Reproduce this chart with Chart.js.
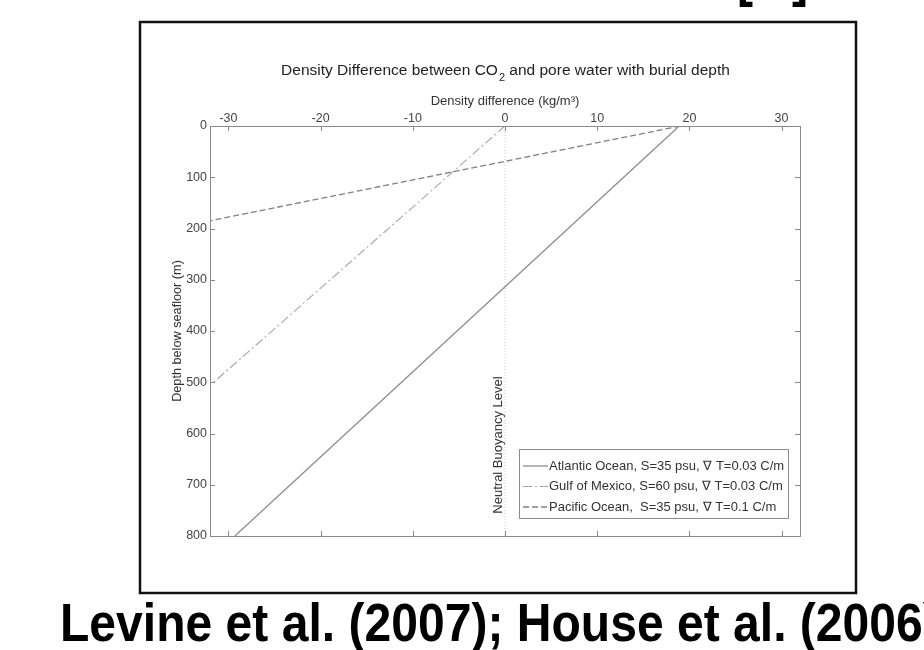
<!DOCTYPE html>
<html>
<head>
<meta charset="utf-8">
<script src="https://cdn.jsdelivr.net/npm/chart.js@4.4.1/dist/chart.umd.min.js"></script>
<style>
  html, body { margin: 0; padding: 0; background: #fff; }
</style>
</head>
<body>
<canvas id="myChart" width="924" height="650"></canvas>
<script>
// density difference (kg/m3) vs depth below seafloor (m)
const depthAtlantic = [0, 800];
const densAtlantic = [18.9, -29.3];
const depthGulf = [0, 500];
const densGulf = [0, -31.6];
const depthPacific = [0, 185];
const densPacific = [19, -32];
const depthNeutral = [0, 800];
const densNeutral = [0, 0];

const seriesLabels = [
  'Atlantic Ocean, S=35 psu, \u2207 T=0.03 C/m',
  'Gulf of Mexico, S=60 psu, \u2207 T=0.03 C/m',
  'Pacific Ocean,  S=35 psu, \u2207 T=0.1 C/m'
];
const xTicks = [-30, -20, -10, 0, 10, 20, 30];
const yTicks = [0, 100, 200, 300, 400, 500, 600, 700, 800];

const FONT = "'Liberation Sans', Arial, sans-serif";

function toPoints(xs, ys) {
  return xs.map((x, i) => ({ x: x, y: ys[i] }));
}

const lineStyles = [
  { color: '#8c8c8c', dash: [], width: 1.3 },
  { color: '#a6a6a6', dash: [9, 3, 2, 3], width: 1.1 },
  { color: '#808080', dash: [6, 3], width: 1.3 }
];

// frame, titles, inner ticks, legend and caption (matlab-ish look)
const decor = {
  id: 'decor',
  afterDraw(chart) {
    const c = chart.ctx;
    const a = chart.chartArea;
    const xs = chart.scales.x;
    const ys = chart.scales.y;
    c.save();

    // axes box + ticks pointing inwards on all sides
    c.strokeStyle = '#8a8a8a';
    c.lineWidth = 1;
    c.strokeRect(Math.round(a.left) + 0.5, Math.round(a.top) + 0.5,
                 Math.round(a.right - a.left), Math.round(a.bottom - a.top));
    c.beginPath();
    xTicks.forEach(v => {
      const px = Math.round(xs.getPixelForValue(v)) + 0.5;
      c.moveTo(px, a.top); c.lineTo(px, a.top + 5);
      c.moveTo(px, a.bottom); c.lineTo(px, a.bottom - 5);
    });
    yTicks.forEach(v => {
      const py = Math.round(ys.getPixelForValue(v)) + 0.5;
      c.moveTo(a.left, py); c.lineTo(a.left + 5, py);
      c.moveTo(a.right, py); c.lineTo(a.right - 5, py);
    });
    c.stroke();

    // title with subscript
    const t1 = 'Density Difference between CO';
    const t2 = '2';
    const t3 = ' and pore water with burial depth';
    c.fillStyle = '#222';
    c.textBaseline = 'alphabetic';
    c.textAlign = 'left';
    c.font = '15.5px ' + FONT;
    const w1 = c.measureText(t1).width;
    const w3 = c.measureText(t3).width;
    c.font = '11px ' + FONT;
    const w2 = c.measureText(t2).width;
    const tx = (a.left + a.right) / 2 - (w1 + w2 + w3) / 2;
    const ty = 75;
    c.font = '15.5px ' + FONT;
    c.fillText(t1, tx, ty);
    c.font = '11px ' + FONT;
    c.fillText(t2, tx + w1 + 1, ty + 6);
    c.font = '15.5px ' + FONT;
    c.fillText(t3, tx + w1 + w2 + 1, ty);

    // neutral buoyancy label
    c.save();
    c.translate(xs.getPixelForValue(0) - 7, 445);
    c.rotate(-Math.PI / 2);
    c.font = '13px ' + FONT;
    c.fillStyle = '#333';
    c.textAlign = 'center';
    c.textBaseline = 'middle';
    c.fillText('Neutral Buoyancy Level', 0, 0);
    c.restore();

    // legend
    const lx = 519.5, ly = 449.5, lw = 269, lh = 69;
    c.fillStyle = '#fff';
    c.fillRect(lx, ly, lw, lh);
    c.strokeStyle = '#8a8a8a';
    c.lineWidth = 1;
    c.setLineDash([]);
    c.strokeRect(lx, ly, lw, lh);
    c.font = '13px ' + FONT;
    c.textBaseline = 'middle';
    c.textAlign = 'left';
    seriesLabels.forEach((lab, i) => {
      const ry = 466 + i * 20.5;
      const st = lineStyles[i];
      c.strokeStyle = st.color;
      c.lineWidth = st.width;
      c.setLineDash(st.dash);
      c.beginPath();
      c.moveTo(523, ry); c.lineTo(548, ry);
      c.stroke();
      c.fillStyle = '#333';
      c.fillText(lab, 549, ry);
    });
    c.setLineDash([]);

    // outer slide frame
    c.strokeStyle = '#111';
    c.lineWidth = 2.5;
    c.strokeRect(140, 22, 716, 571);

    // caption (squeezed horizontally like the slide)
    c.fillStyle = '#000';
    c.font = 'bold 54px ' + FONT;
    c.textBaseline = 'alphabetic';
    c.save();
    c.translate(60, 641);
    c.scale(0.89, 1);
    c.fillText('Levine et al. (2007); House et al. (2006)', 0, 0);
    c.restore();

    // bottoms of the heading above, cut off by the page edge
    c.font = 'bold 56px ' + FONT;
    c.save();
    c.translate(737, -5);
    c.scale(0.86, 1);
    c.fillText('[', 0, 0);
    c.restore();
    c.save();
    c.translate(792, -5);
    c.scale(0.86, 1);
    c.fillText(']', 0, 0);
    c.restore();

    c.restore();
  }
};

const ctx = document.getElementById('myChart');

new Chart(ctx, {
  type: 'scatter',
  data: {
    datasets: [
      {
        label: seriesLabels[0],
        data: toPoints(densAtlantic, depthAtlantic),
        showLine: true,
        borderColor: lineStyles[0].color,
        borderWidth: lineStyles[0].width,
        borderDash: lineStyles[0].dash,
        pointRadius: 0
      },
      {
        label: seriesLabels[1],
        data: toPoints(densGulf, depthGulf),
        showLine: true,
        borderColor: lineStyles[1].color,
        borderWidth: lineStyles[1].width,
        borderDash: lineStyles[1].dash,
        pointRadius: 0
      },
      {
        label: seriesLabels[2],
        data: toPoints(densPacific, depthPacific),
        showLine: true,
        borderColor: lineStyles[2].color,
        borderWidth: lineStyles[2].width,
        borderDash: lineStyles[2].dash,
        pointRadius: 0
      },
      {
        label: 'Neutral Buoyancy Level',
        data: toPoints(densNeutral, depthNeutral),
        showLine: true,
        borderColor: '#c4c4c4',
        borderWidth: 1,
        borderDash: [1, 2],
        pointRadius: 0
      }
    ]
  },
  options: {
    responsive: false,
    animation: false,
    devicePixelRatio: 1,
    layout: { padding: { left: 166, right: 124, top: 90, bottom: 114 } },
    scales: {
      x: {
        type: 'linear',
        position: 'top',
        min: -32,
        max: 32,
        afterBuildTicks: s => { s.ticks = xTicks.map(v => ({ value: v })); },
        afterFit: s => { s.height = 36; },
        grid: { display: false, drawTicks: false },
        border: { display: false },
        ticks: { color: '#444', padding: 0, font: { family: FONT, size: 12.5 } },
        title: {
          display: true,
          text: 'Density difference (kg/m\u00b3)',
          color: '#333',
          font: { family: FONT, size: 13 },
          padding: { top: 4, bottom: 4 }
        }
      },
      y: {
        type: 'linear',
        reverse: true,
        min: 0,
        max: 800,
        afterBuildTicks: s => { s.ticks = yTicks.map(v => ({ value: v })); },
        afterFit: s => { s.width = 44; },
        grid: { display: false, drawTicks: false },
        border: { display: false },
        ticks: { color: '#444', padding: 3, font: { family: FONT, size: 12.5 } },
        title: {
          display: true,
          text: 'Depth below seafloor (m)',
          color: '#333',
          font: { family: FONT, size: 12.7 },
          padding: { top: 4, bottom: 4 }
        }
      }
    },
    plugins: {
      legend: { display: false },
      tooltip: { enabled: false }
    }
  },
  plugins: [decor]
});
</script>
</body>
</html>
